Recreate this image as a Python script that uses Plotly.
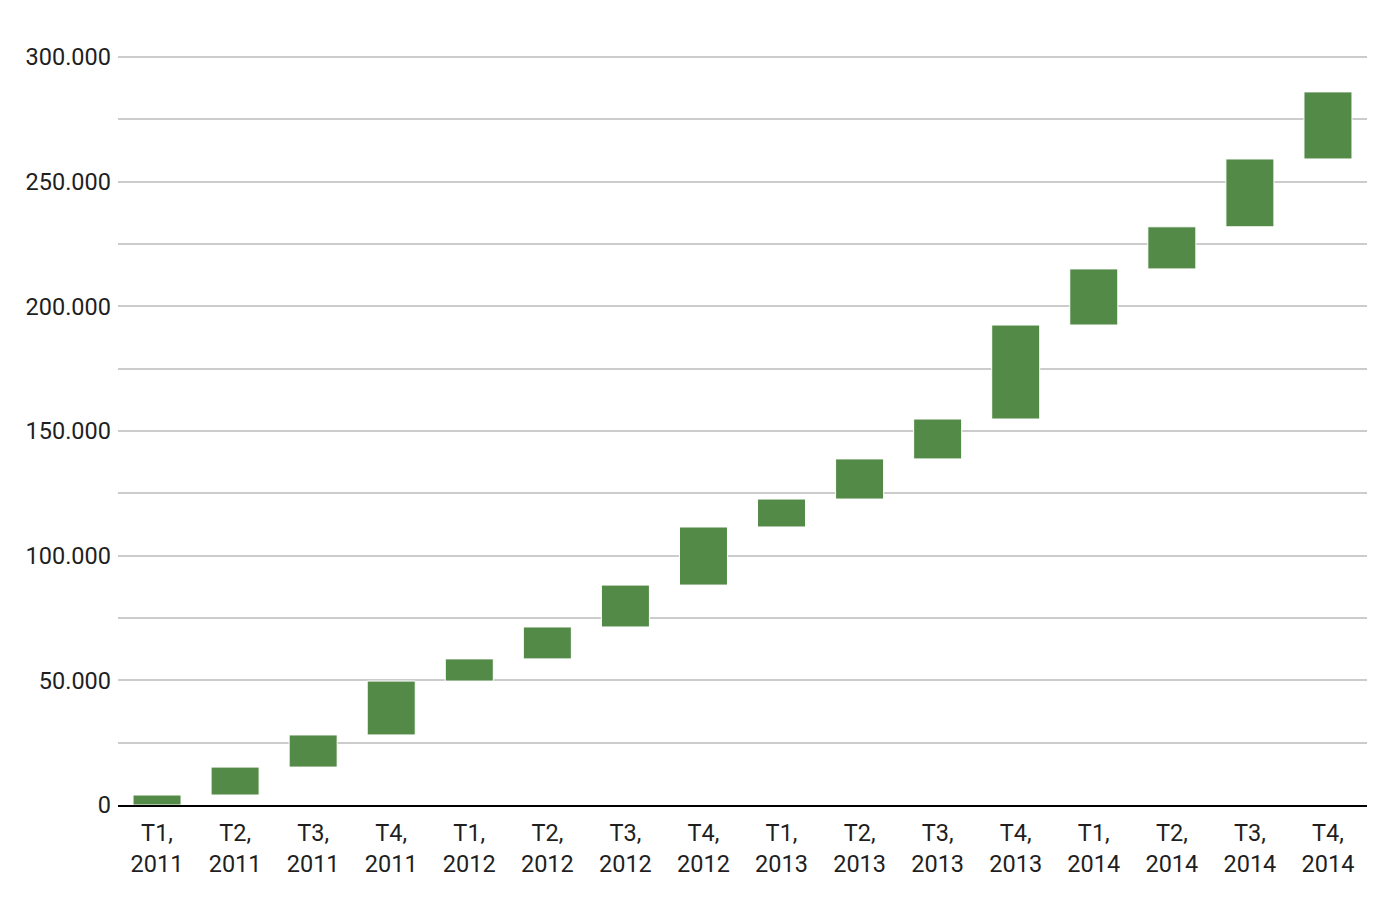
import plotly.graph_objects as go

QUARTERS = ["T1", "T2", "T3", "T4"]
YEARS = ["2011", "2012", "2013", "2014"]
CATEGORIES = [f"{q},<br>{y}" for y in YEARS for q in QUARTERS]

# quarterly increments
INCREMENTS = [4000, 11200, 12900, 21600,
              8900, 12800, 16800, 23300,
              11200, 16100, 16000, 37700,
              22500, 16900, 27200, 26900]

Y_TICKS = [0, 50000, 100000, 150000, 200000, 250000, 300000]

GREEN = "#548a47"
GRID = "#cccccc"
TEXT = "#1f1f1f"

fig = go.Figure(
    go.Waterfall(
        x=CATEGORIES,
        y=INCREMENTS,
        measure=["relative"] * len(INCREMENTS),
        increasing=dict(marker=dict(color=GREEN, line=dict(color="white", width=1))),
        decreasing=dict(marker=dict(color=GREEN)),
        connector=dict(visible=False),
        hoverinfo="x+y",
    )
)

# page body has an 8px margin, so the figure is a bit smaller than the window
fig.update_layout(
    width=1378,
    height=900,
    plot_bgcolor="white",
    paper_bgcolor="white",
    showlegend=False,
    waterfallgap=0.385,
    separators=",.",
    font=dict(family="Roboto", size=23.5, color=TEXT),
    margin=dict(l=110, r=19, t=44, b=103),
)
fig.update_xaxes(
    showgrid=False,
    showline=True,
    linecolor="black",
    linewidth=2,
    ticks="",
    ticklabelstandoff=6,
    tickfont=dict(size=23.5, color=TEXT),
)
fig.update_yaxes(
    range=[0, 302000],
    tickvals=Y_TICKS,
    tickformat=",d",
    showgrid=True,
    gridcolor=GRID,
    gridwidth=2,
    zeroline=False,
    minor=dict(dtick=25000, tick0=0, showgrid=True, gridcolor=GRID, gridwidth=2),
    ticks="",
    ticklabelstandoff=6,
    tickfont=dict(size=23.5, color=TEXT),
)

fig.write_html("out.html")
